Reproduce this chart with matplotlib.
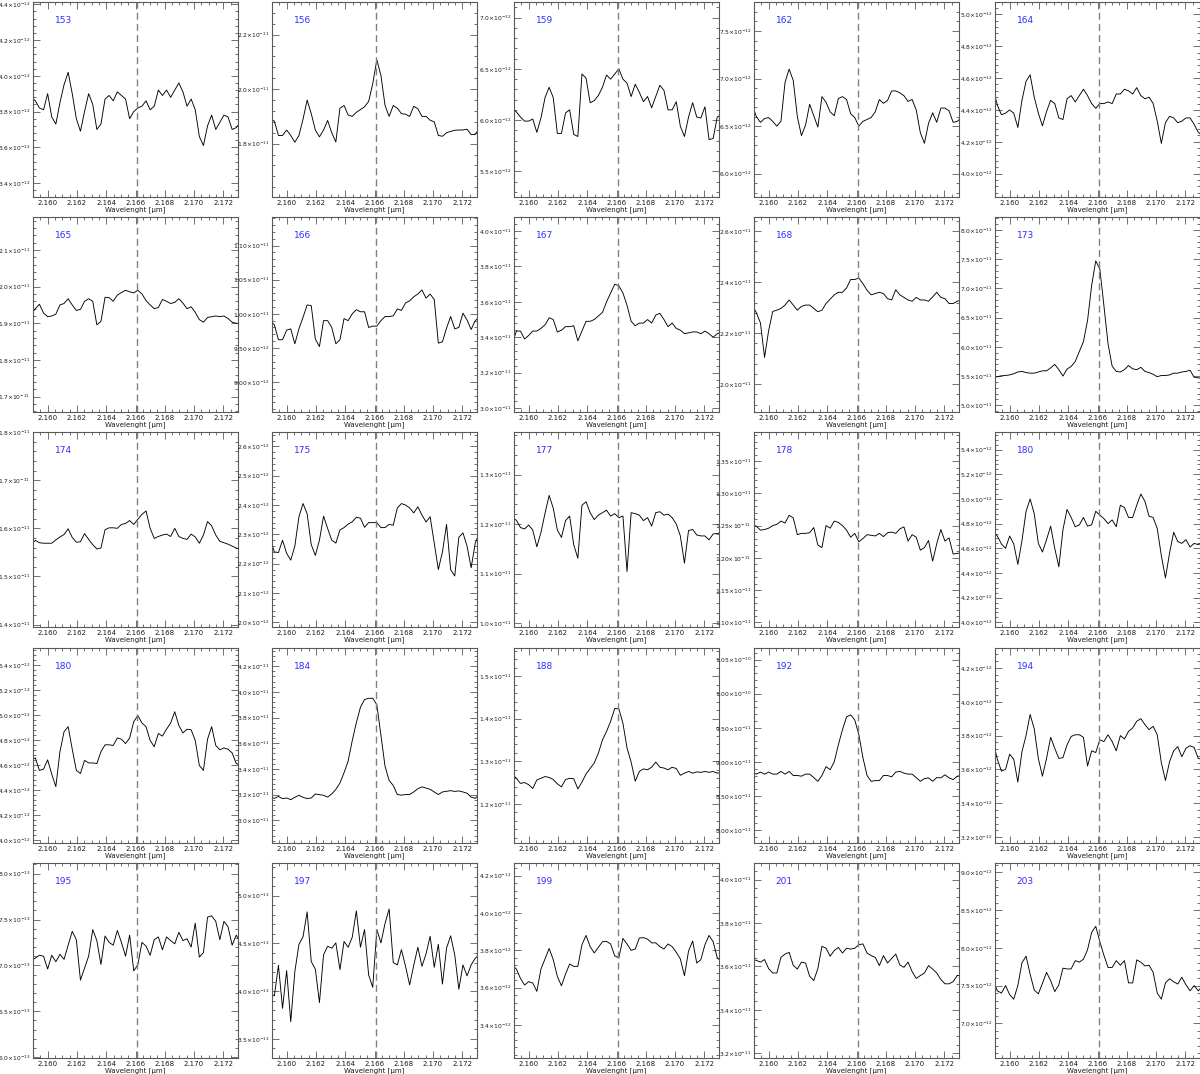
import numpy as np
import matplotlib
matplotlib.use("Agg")
import matplotlib.pyplot as plt
from matplotlib.ticker import MultipleLocator, AutoMinorLocator, FuncFormatter

# wavelength sampling of the extracted spectra [um]
lamStart = 2.15888
lamStep = 0.00028
nPix = 52
brGamma = 2.1661

panelIds = ["153", "156", "159", "162", "164",
            "165", "166", "167", "168", "173",
            "174", "175", "177", "178", "180",
            "180", "184", "188", "192", "194",
            "195", "197", "199", "201", "203"]

# flux in units of yScale (erg/s/cm2/um)
yScale = [1e-12, 1e-11, 1e-12, 1e-12, 1e-12,
          1e-11, 1e-11, 1e-11, 1e-11, 1e-11,
          1e-11, 1e-12, 1e-11, 1e-11, 1e-12,
          1e-12, 1e-11, 1e-11, 1e-11, 1e-12,
          1e-13, 1e-13, 1e-12, 1e-11, 1e-12]
yLow = [3.322, 1.604, 5.249, 5.755, 3.854,
        1.658, 0.856, 2.978, 1.891, 4.886,
        1.395, 1.984, 0.992, 1.093, 3.962,
        3.979, 2.822, 1.108, 7.81, 3.165,
        5.99, 3.30, 3.223, 3.178, 6.54]
yHigh = [4.413, 2.320, 7.153, 7.805, 5.077,
         2.190, 1.142, 4.079, 2.655, 8.22,
         1.80, 2.649, 1.386, 1.395, 5.543,
         5.54, 4.342, 1.566, 10.67, 4.318,
         8.116, 5.342, 4.268, 4.077, 9.124]
yStep = [0.2, 0.2, 0.5, 0.5, 0.2,
         0.1, 0.05, 0.2, 0.2, 0.5,
         0.1, 0.1, 0.1, 0.05, 0.2,
         0.2, 0.2, 0.1, 0.5, 0.2,
         0.5, 0.5, 0.2, 0.2, 0.5]
yDecimals = [1, 1, 1, 1, 1,
             1, 2, 1, 1, 1,
             1, 1, 1, 2, 1,
             1, 1, 1, 2, 1,
             1, 1, 1, 1, 1]

flux153 = [3.88, 3.86, 3.82, 3.81, 3.90, 3.77, 3.73, 3.85, 3.95, 4.02, 3.90, 3.76, 3.69,
           3.80, 3.90, 3.84, 3.70, 3.73, 3.87, 3.89, 3.86, 3.91, 3.89, 3.87, 3.76, 3.80,
           3.82, 3.83, 3.86, 3.81, 3.83, 3.92, 3.89, 3.92, 3.88, 3.92, 3.96, 3.91, 3.83,
           3.87, 3.81, 3.66, 3.61, 3.72, 3.78, 3.70, 3.74, 3.78, 3.77, 3.70, 3.71, 3.74]
flux156 = [1.89, 1.883, 1.83, 1.83, 1.85, 1.83, 1.805, 1.83, 1.89, 1.96, 1.91, 1.85, 1.825,
           1.85, 1.885, 1.84, 1.806, 1.93, 1.94, 1.905, 1.90, 1.915, 1.925, 1.935, 1.955, 2.02,
           2.108, 2.05, 1.94, 1.90, 1.94, 1.93, 1.91, 1.908, 1.90, 1.937, 1.928, 1.90, 1.90,
           1.886, 1.88, 1.83, 1.827, 1.84, 1.845, 1.849, 1.85, 1.85, 1.853, 1.833, 1.834, 1.855]
flux159 = [6.11, 6.08, 6.03, 5.99, 5.99, 6.01, 5.88, 6.02, 6.22, 6.32, 6.22, 5.87, 5.87,
           6.07, 6.10, 5.86, 5.84, 6.45, 6.41, 6.17, 6.19, 6.24, 6.32, 6.44, 6.40, 6.45,
           6.50, 6.40, 6.36, 6.23, 6.35, 6.27, 6.18, 6.23, 6.12, 6.23, 6.34, 6.29, 6.10,
           6.10, 6.18, 5.94, 5.84, 6.03, 6.17, 6.03, 6.02, 6.13, 5.81, 5.82, 6.03, 6.05]
flux162 = [6.72, 6.60, 6.54, 6.58, 6.59, 6.55, 6.50, 6.55, 6.96, 7.10, 6.98, 6.60, 6.40,
           6.51, 6.73, 6.61, 6.49, 6.81, 6.75, 6.65, 6.61, 6.79, 6.81, 6.78, 6.63, 6.59,
           6.50, 6.55, 6.57, 6.59, 6.65, 6.78, 6.74, 6.77, 6.87, 6.87, 6.85, 6.82, 6.76,
           6.78, 6.67, 6.43, 6.32, 6.53, 6.64, 6.54, 6.69, 6.69, 6.66, 6.54, 6.55, 6.59]
flux164 = [4.53, 4.43, 4.37, 4.38, 4.40, 4.38, 4.29, 4.46, 4.58, 4.62, 4.48, 4.38, 4.30,
           4.39, 4.46, 4.44, 4.35, 4.34, 4.47, 4.49, 4.45, 4.49, 4.53, 4.49, 4.44, 4.41,
           4.44, 4.44, 4.45, 4.44, 4.50, 4.50, 4.53, 4.52, 4.50, 4.54, 4.49, 4.47, 4.48,
           4.44, 4.33, 4.19, 4.32, 4.36, 4.35, 4.32, 4.33, 4.35, 4.35, 4.31, 4.26, 4.24]
flux165 = [1.925, 1.94, 1.952, 1.928, 1.918, 1.92, 1.925, 1.95, 1.954, 1.967, 1.95, 1.935, 1.938,
           1.96, 1.967, 1.96, 1.896, 1.905, 1.971, 1.97, 1.96, 1.977, 1.984, 1.99, 1.986, 1.983,
           1.99, 1.98, 1.962, 1.95, 1.94, 1.943, 1.965, 1.96, 1.954, 1.957, 1.967, 1.955, 1.94,
           1.945, 1.93, 1.91, 1.903, 1.916, 1.918, 1.92, 1.918, 1.92, 1.913, 1.903, 1.90, 1.90]
flux166 = [0.99, 0.984, 0.962, 0.962, 0.976, 0.978, 0.956, 0.978, 0.995, 1.013, 1.012, 0.963, 0.952,
           0.99, 0.99, 0.98, 0.956, 0.962, 0.993, 0.99, 1.0, 1.006, 1.003, 1.003, 0.98, 0.982,
           0.982, 0.99, 0.996, 0.996, 0.997, 1.007, 1.005, 1.016, 1.019, 1.025, 1.029, 1.035, 1.023,
           1.029, 1.021, 0.957, 0.959, 0.979, 0.996, 0.978, 0.98, 1.001, 0.991, 0.977, 0.99, 0.995]
flux167 = [3.36, 3.435, 3.435, 3.39, 3.41, 3.435, 3.435, 3.45, 3.47, 3.51, 3.50, 3.43, 3.44,
           3.46, 3.46, 3.465, 3.38, 3.435, 3.49, 3.49, 3.50, 3.52, 3.54, 3.60, 3.65, 3.70,
           3.69, 3.65, 3.58, 3.49, 3.465, 3.48, 3.48, 3.50, 3.48, 3.525, 3.535, 3.50, 3.46,
           3.48, 3.45, 3.44, 3.42, 3.425, 3.43, 3.43, 3.42, 3.435, 3.42, 3.40, 3.42, 3.43]
flux168 = [2.31, 2.28, 2.24, 2.105, 2.21, 2.285, 2.29, 2.297, 2.31, 2.33, 2.31, 2.29, 2.305,
           2.31, 2.31, 2.297, 2.284, 2.29, 2.316, 2.333, 2.35, 2.36, 2.36, 2.377, 2.41, 2.41,
           2.416, 2.394, 2.368, 2.35, 2.355, 2.36, 2.355, 2.335, 2.33, 2.37, 2.35, 2.34, 2.33,
           2.325, 2.34, 2.33, 2.33, 2.325, 2.342, 2.36, 2.34, 2.335, 2.316, 2.316, 2.325, 2.33]
flux173 = [5.47, 5.49, 5.505, 5.51, 5.52, 5.54, 5.57, 5.58, 5.56, 5.55, 5.55, 5.57, 5.59,
           5.59, 5.64, 5.70, 5.61, 5.50, 5.62, 5.665, 5.75, 5.92, 6.09, 6.45, 7.05, 7.47,
           7.33, 6.70, 6.05, 5.67, 5.58, 5.57, 5.61, 5.68, 5.625, 5.61, 5.65, 5.58, 5.56,
           5.53, 5.49, 5.51, 5.51, 5.52, 5.55, 5.55, 5.57, 5.58, 5.60, 5.48, 5.47, 5.46]
flux174 = [1.566, 1.575, 1.570, 1.569, 1.569, 1.569, 1.576, 1.582, 1.587, 1.599, 1.581, 1.571, 1.572,
           1.589, 1.577, 1.566, 1.557, 1.559, 1.597, 1.601, 1.601, 1.60, 1.608, 1.61, 1.616, 1.608,
           1.619, 1.629, 1.636, 1.60, 1.579, 1.583, 1.586, 1.588, 1.583, 1.60, 1.583, 1.579, 1.577,
           1.588, 1.582, 1.569, 1.586, 1.614, 1.605, 1.586, 1.573, 1.570, 1.567, 1.563, 1.559, 1.556]
flux175 = [2.285, 2.24, 2.238, 2.28, 2.235, 2.212, 2.26, 2.36, 2.405, 2.37, 2.265, 2.228, 2.28,
           2.362, 2.32, 2.28, 2.27, 2.315, 2.323, 2.335, 2.343, 2.358, 2.355, 2.324, 2.34, 2.34,
           2.34, 2.323, 2.323, 2.334, 2.331, 2.39, 2.405, 2.40, 2.39, 2.373, 2.394, 2.366, 2.342,
           2.36, 2.27, 2.18, 2.24, 2.334, 2.18, 2.158, 2.29, 2.305, 2.26, 2.186, 2.27, 2.305]
flux177 = [1.212, 1.208, 1.193, 1.19, 1.198, 1.188, 1.154, 1.183, 1.222, 1.258, 1.232, 1.188, 1.173,
           1.207, 1.216, 1.158, 1.131, 1.238, 1.245, 1.223, 1.209, 1.218, 1.223, 1.228, 1.216, 1.221,
           1.213, 1.216, 1.104, 1.223, 1.221, 1.218, 1.207, 1.213, 1.196, 1.223, 1.225, 1.218, 1.22,
           1.213, 1.20, 1.176, 1.121, 1.187, 1.189, 1.178, 1.176, 1.176, 1.168, 1.18, 1.181, 1.183]
flux178 = [1.252, 1.249, 1.243, 1.244, 1.246, 1.25, 1.252, 1.257, 1.254, 1.266, 1.262, 1.236, 1.238,
           1.238, 1.239, 1.247, 1.22, 1.216, 1.25, 1.246, 1.257, 1.255, 1.25, 1.243, 1.232, 1.238,
           1.225, 1.23, 1.236, 1.235, 1.234, 1.238, 1.233, 1.239, 1.24, 1.238, 1.245, 1.248, 1.226,
           1.236, 1.232, 1.212, 1.216, 1.227, 1.195, 1.222, 1.244, 1.226, 1.231, 1.206, 1.207, 1.208]
flux180 = [4.73, 4.70, 4.635, 4.60, 4.70, 4.635, 4.47, 4.66, 4.90, 5.00, 4.88, 4.64, 4.57,
           4.67, 4.78, 4.60, 4.45, 4.75, 4.915, 4.85, 4.775, 4.79, 4.85, 4.78, 4.79, 4.90,
           4.87, 4.84, 4.80, 4.83, 4.775, 4.95, 4.93, 4.85, 4.85, 4.95, 5.04, 4.98, 4.86,
           4.85, 4.76, 4.54, 4.36, 4.56, 4.73, 4.655, 4.64, 4.67, 4.61, 4.64, 4.63, 4.645]
flux180b = [4.645, 4.66, 4.56, 4.57, 4.645, 4.53, 4.43, 4.71, 4.87, 4.91, 4.73, 4.56, 4.535,
            4.64, 4.62, 4.62, 4.615, 4.71, 4.765, 4.765, 4.76, 4.82, 4.81, 4.775, 4.82, 4.95,
            5.00, 4.94, 4.91, 4.80, 4.75, 4.855, 4.835, 4.89, 4.94, 5.03, 4.92, 4.86, 4.89,
            4.885, 4.80, 4.60, 4.56, 4.81, 4.91, 4.76, 4.725, 4.74, 4.73, 4.70, 4.615, 4.60]
flux184 = [3.18, 3.17, 3.185, 3.168, 3.173, 3.16, 3.178, 3.194, 3.178, 3.168, 3.173, 3.204, 3.199,
           3.194, 3.18, 3.204, 3.24, 3.29, 3.37, 3.46, 3.62, 3.76, 3.88, 3.94, 3.95, 3.95,
           3.90, 3.66, 3.42, 3.31, 3.27, 3.20, 3.195, 3.20, 3.20, 3.22, 3.245, 3.26, 3.25,
           3.24, 3.22, 3.20, 3.22, 3.225, 3.23, 3.224, 3.228, 3.22, 3.21, 3.18, 3.17, 3.20]
flux188 = [1.27, 1.26, 1.248, 1.25, 1.245, 1.236, 1.256, 1.26, 1.264, 1.262, 1.257, 1.247, 1.24,
           1.257, 1.26, 1.259, 1.235, 1.251, 1.27, 1.283, 1.296, 1.319, 1.35, 1.37, 1.394, 1.424,
           1.423, 1.389, 1.331, 1.298, 1.253, 1.276, 1.282, 1.28, 1.286, 1.298, 1.286, 1.284, 1.28,
           1.286, 1.283, 1.267, 1.272, 1.276, 1.272, 1.275, 1.274, 1.276, 1.274, 1.276, 1.272, 1.274]
flux192 = [8.85, 8.82, 8.85, 8.82, 8.85, 8.82, 8.82, 8.86, 8.82, 8.86, 8.80, 8.80, 8.79,
           8.82, 8.82, 8.77, 8.715, 8.80, 8.93, 8.885, 9.0, 9.25, 9.47, 9.66, 9.69, 9.615,
           9.40, 9.06, 8.80, 8.715, 8.725, 8.725, 8.80, 8.80, 8.78, 8.85, 8.86, 8.835, 8.82,
           8.82, 8.77, 8.715, 8.755, 8.765, 8.715, 8.77, 8.765, 8.81, 8.765, 8.74, 8.79, 8.80]
flux194 = [3.76, 3.66, 3.59, 3.60, 3.69, 3.66, 3.525, 3.705, 3.80, 3.925, 3.84, 3.665, 3.56,
           3.665, 3.79, 3.725, 3.665, 3.67, 3.745, 3.795, 3.805, 3.805, 3.79, 3.62, 3.71, 3.70,
           3.775, 3.765, 3.805, 3.765, 3.71, 3.80, 3.78, 3.825, 3.845, 3.885, 3.90, 3.865, 3.835,
           3.855, 3.805, 3.64, 3.535, 3.645, 3.71, 3.735, 3.675, 3.725, 3.74, 3.73, 3.665, 3.66]
flux195 = [7.05, 7.08, 7.11, 7.10, 6.96, 7.11, 7.04, 7.12, 7.065, 7.22, 7.37, 7.28, 6.84,
           6.97, 7.10, 7.39, 7.27, 7.01, 7.32, 7.25, 7.22, 7.38, 7.25, 7.10, 7.33, 6.94,
           7.007, 7.25, 7.21, 7.11, 7.28, 7.31, 7.17, 7.31, 7.27, 7.235, 7.36, 7.27, 7.29,
           7.20, 7.46, 7.09, 7.14, 7.525, 7.54, 7.48, 7.28, 7.48, 7.42, 7.22, 7.33, 7.25]
flux197 = [3.98, 3.95, 4.27, 3.82, 4.215, 3.68, 4.205, 4.49, 4.57, 4.83, 4.31, 4.23, 3.88,
           4.38, 4.47, 4.45, 4.505, 4.225, 4.52, 4.46, 4.565, 4.84, 4.46, 4.645, 4.17, 4.04,
           4.645, 4.505, 4.71, 4.86, 4.30, 4.275, 4.435, 4.26, 4.065, 4.27, 4.46, 4.26, 4.39,
           4.575, 4.25, 4.49, 4.075, 4.45, 4.58, 4.38, 4.02, 4.275, 4.16, 4.275, 4.345, 4.38]
flux199 = [3.72, 3.70, 3.65, 3.614, 3.632, 3.625, 3.58, 3.70, 3.754, 3.81, 3.75, 3.66, 3.61,
           3.673, 3.727, 3.714, 3.714, 3.83, 3.88, 3.82, 3.786, 3.816, 3.846, 3.848, 3.834, 3.77,
           3.76, 3.864, 3.834, 3.80, 3.807, 3.866, 3.868, 3.86, 3.84, 3.84, 3.82, 3.807, 3.834,
           3.82, 3.79, 3.754, 3.664, 3.796, 3.85, 3.732, 3.75, 3.83, 3.88, 3.846, 3.76, 3.74]
flux201 = [3.634, 3.628, 3.62, 3.632, 3.59, 3.57, 3.57, 3.642, 3.657, 3.665, 3.605, 3.588, 3.62,
           3.616, 3.555, 3.535, 3.59, 3.693, 3.684, 3.647, 3.673, 3.688, 3.662, 3.684, 3.68, 3.684,
           3.70, 3.704, 3.662, 3.65, 3.642, 3.604, 3.65, 3.616, 3.637, 3.657, 3.607, 3.596, 3.62,
           3.576, 3.545, 3.558, 3.57, 3.604, 3.588, 3.57, 3.54, 3.52, 3.52, 3.53, 3.558, 3.56]
flux203 = [7.56, 7.43, 7.40, 7.50, 7.38, 7.32, 7.50, 7.80, 7.89, 7.65, 7.44, 7.39, 7.53,
           7.675, 7.565, 7.42, 7.51, 7.73, 7.72, 7.72, 7.83, 7.81, 7.85, 7.975, 8.205, 8.285,
           8.08, 7.90, 7.74, 7.74, 7.83, 7.77, 7.83, 7.535, 7.535, 7.84, 7.81, 7.76, 7.77,
           7.675, 7.40, 7.32, 7.535, 7.59, 7.55, 7.52, 7.61, 7.51, 7.43, 7.50, 7.43, 7.49]

allFlux = [flux153, flux156, flux159, flux162, flux164,
           flux165, flux166, flux167, flux168, flux173,
           flux174, flux175, flux177, flux178, flux180,
           flux180b, flux184, flux188, flux192, flux194,
           flux195, flux197, flux199, flux201, flux203]


def sciLabel(decimals):
    # tick labels like 4.4x10^-12 (exponent follows the value)
    def fmt(v, pos):
        if v <= 0:
            return ""
        ex = int(np.floor(np.log10(v) + 1e-9))
        m = round(v / 10.0**ex, decimals)
        if m >= 10:
            m /= 10.0
            ex += 1
        return "%.*f×10$^{%d}$" % (decimals, m, ex)
    return FuncFormatter(fmt)


def makeGrid():
    plt.rcParams["font.family"] = "DejaVu Sans"
    plt.rcParams["mathtext.default"] = "regular"
    fig = plt.figure(figsize=(12, 10.74), dpi=100)
    colLeft = [33, 272, 514, 754, 995]
    rowTop = [2, 217, 432, 648, 863]
    wave = lamStart + lamStep * np.arange(nPix)

    for k in range(25):
        r, c = k // 5, k % 5
        ax = fig.add_axes([colLeft[c] / 1200, 1 - (rowTop[r] + 195) / 1074,
                           205 / 1200, 195 / 1074])
        flux = np.array(allFlux[k]) * yScale[k]
        ax.plot(wave, flux, color="black", lw=0.65)
        ax.axvline(brGamma, color="0.5", lw=1.0, ls=(0, (5, 3)))

        ax.set_xlim(2.1590, 2.1730)
        ax.set_ylim(yLow[k] * yScale[k], yHigh[k] * yScale[k])
        ax.xaxis.set_major_locator(MultipleLocator(0.002))
        ax.xaxis.set_minor_locator(AutoMinorLocator(4))
        ax.xaxis.set_major_formatter(FuncFormatter(lambda v, p: "%.3f" % v))
        ax.yaxis.set_major_locator(MultipleLocator(yStep[k] * yScale[k]))
        ax.yaxis.set_minor_locator(AutoMinorLocator(5))
        ax.yaxis.set_major_formatter(sciLabel(yDecimals[k]))

        ax.tick_params(which="both", direction="in", top=True, right=True,
                       color="0.35", width=0.6, labelcolor="0.1")
        ax.tick_params(which="major", length=5)
        ax.tick_params(which="minor", length=2.5)
        ax.tick_params(axis="x", pad=2, labelsize=5)
        ax.tick_params(axis="y", pad=2, labelsize=4.3)
        for sp in ax.spines.values():
            sp.set_color("0.35")
            sp.set_linewidth(0.8)

        ax.set_xlabel("Wavelenght [μm]", fontsize=5, labelpad=0.5, color="0.1")
        ax.text(0.105, 0.905, panelIds[k], transform=ax.transAxes, color="#2f2fff",
                fontsize=6.5, ha="left", va="center")

    fig.savefig("out.png", dpi=100)


if __name__ == "__main__":
    makeGrid()
